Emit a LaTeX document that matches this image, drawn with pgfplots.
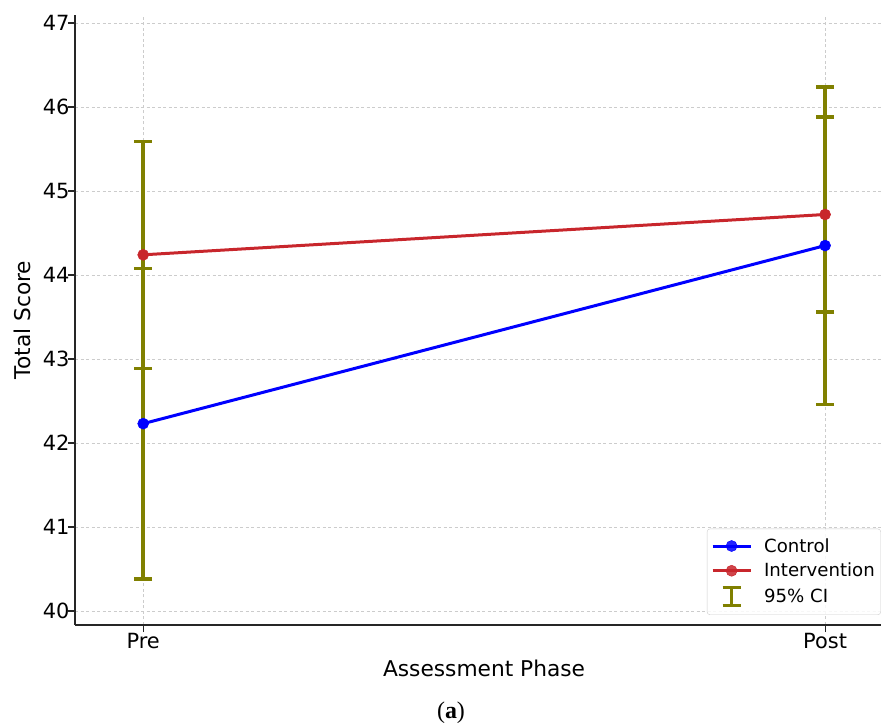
\documentclass[border=0pt]{standalone}
\usepackage{pgfplots}
\pgfplotsset{compat=1.18}
\usepackage{fontspec}
\setmainfont{DejaVu Sans}
\newfontfamily\capfont{Liberation Serif}
\definecolor{ciolive}{HTML}{808000}
\definecolor{ctrlblue}{HTML}{0000FF}
\definecolor{intred}{HTML}{C8262C}
\definecolor{gridgray}{HTML}{CCCCCC}
\definecolor{spine}{HTML}{262626}
\begin{document}
\begin{tikzpicture}
\begin{axis}[
  at={(75bp,99bp)}, anchor=south west,
  scale only axis, width=806bp, height=610bp,
  xmin=-0.1, xmax=1.082, ymin=39.833, ymax=47.095,
  axis x line*=bottom, axis y line*=left,
  axis line style={spine, line width=1.3bp, -},
  xtick={0,1}, xticklabels={Pre,Post},
  ytick={40,41,42,43,44,45,46,47},
  tick align=outside, major tick length=7bp,
  tick style={spine, line width=1.1bp},
  grid=major,
  major grid style={gridgray, line width=0.8bp, dash pattern=on 3bp off 2.5bp},
  /pgf/number format/assume math mode=true,
  tick label style={font=\fontsize{21}{24}\selectfont, text=black},
  yticklabel style={xshift=5bp},
  xticklabel style={yshift=2bp},
  xlabel={Assessment Phase},
  ylabel={Total Score},
  label style={font=\fontsize{21.8}{25}\selectfont},
  xlabel style={at={(axis description cs:0.5075,-0.0852)}, anchor=base},
  ylabel style={at={(axis description cs:-0.0546,0.5)}, anchor=base, rotate=0},
  legend cell align=left,
  legend style={at={(axis description cs:0.784,0.0164)}, anchor=south west,
    font=\fontsize{18.2}{21}\selectfont, draw=gridgray, rounded corners=3bp,
    fill=white, fill opacity=0.85, text opacity=1,
    row sep=5.5bp, inner xsep=4bp, inner ysep=7.5bp,
    /tikz/every odd column/.append style={column sep=10bp}},
  legend image code/.code={\draw[mark repeat=2,mark phase=2,#1] plot coordinates {(0bp,0bp) (19bp,0bp) (38bp,0bp)};},
]
% error bars (drawn first, beneath lines)
\addplot[ciolive, only marks, mark=none, forget plot,
  error bars/.cd, y dir=both, y explicit,
  error bar style={draw=ciolive, line width=3.4bp},
  error mark options={draw=ciolive, line width=3.4bp, mark size=9bp, rotate=90}]
  coordinates {(0,42.23) +- (0,1.85) (1,44.35) +- (0,1.89)};
\addplot[ciolive, only marks, mark=none, forget plot,
  error bars/.cd, y dir=both, y explicit,
  error bar style={draw=ciolive, line width=3.4bp},
  error mark options={draw=ciolive, line width=3.4bp, mark size=9bp, rotate=90}]
  coordinates {(0,44.24) +- (0,1.35) (1,44.72) +- (0,1.16)};
% series
\addplot[ctrlblue, line width=3bp, mark=*, mark size=5.5bp, mark options={solid, fill=ctrlblue, draw=ctrlblue, line width=0.5bp}]
  coordinates {(0,42.23) (1,44.35)};
\addlegendentry{Control}
\addplot[intred, line width=3bp, mark=*, mark size=5.5bp, mark options={solid, fill=intred, draw=intred, line width=0.5bp}]
  coordinates {(0,44.24) (1,44.72)};
\addlegendentry{Intervention}
\addlegendimage{legend image code/.code={
  \draw[ciolive, line width=3.4bp] (19bp,-9bp) -- (19bp,9bp);
  \draw[ciolive, line width=3.4bp] (10bp,-9bp) -- (28bp,-9bp);
  \draw[ciolive, line width=3.4bp] (10bp,9bp) -- (28bp,9bp);}}
\addlegendentry{95\% CI}
\end{axis}
\node[anchor=base, font=\capfont\fontsize{24}{28}\selectfont] at (451bp,6bp) {(\textbf{a})};
\pgfresetboundingbox
\path[use as bounding box] (0,0) rectangle (881bp,724bp);
\end{tikzpicture}
\end{document}
